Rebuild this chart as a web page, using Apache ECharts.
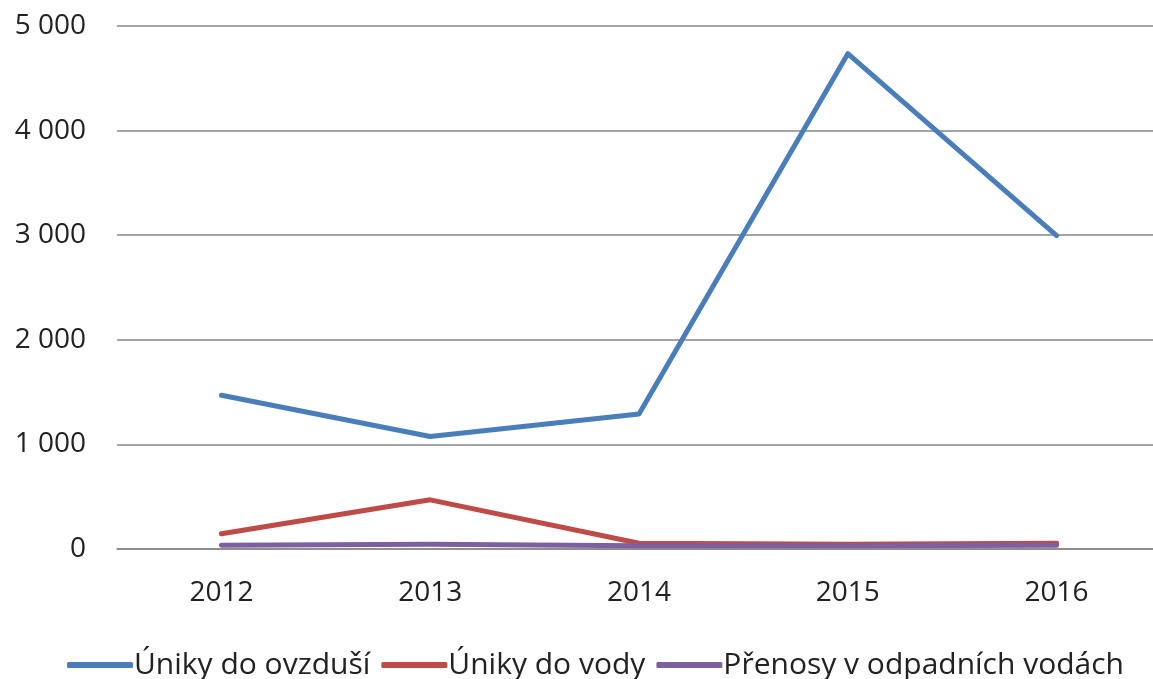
<!DOCTYPE html>
<html>
<head>
<meta charset="utf-8">
<script src="https://cdn.jsdelivr.net/npm/echarts@6/dist/echarts.min.js"></script>
<style>
html, body { margin: 0; padding: 0; background: #fff; }
#chart { width: 1153px; height: 679px; }
</style>
</head>
<body>
<div id="chart"></div>
<script>
var years = ['2012', '2013', '2014', '2015', '2016'];
var ovzdusi = [1470, 1075, 1290, 4735, 2995];
var voda = [145, 470, 55, 45, 55];
var odpadni = [35, 45, 30, 30, 35];
var yTicks = [0, 1000, 2000, 3000, 4000, 5000];

var myChart = echarts.init(document.getElementById('chart'));

function fmt(v) {
    //mezera jako oddělovač tisíců
    return String(v).replace(/\B(?=(\d{3})+(?!\d))/g, ' ');
}

function line(name, data, color) {
    return {
        name: name,
        type: 'line',
        data: data,
        showSymbol: false,
        symbol: 'none',
        lineStyle: { color: color, width: 5, cap: 'round', join: 'round' },
        itemStyle: { color: color }
    };
}

var option = {
    animation: false,
    textStyle: { fontFamily: 'Open Sans' },
    grid: { left: 117, width: 1044, top: 26, bottom: 130, containLabel: false, outerBoundsMode: 'none' },
    legend: {
        top: 645,
        left: 62,
        icon: 'roundRect',
        itemWidth: 66,
        itemHeight: 6,
        itemGap: 11,
        textStyle: { fontSize: 30, color: '#222', padding: [0, 0, 0, -4] },
        data: ['Úniky do ovzduší', 'Úniky do vody', 'Přenosy v odpadních vodách']
    },
    xAxis: {
        type: 'category',
        data: years,
        axisLine: { lineStyle: { color: '#868686', width: 1.5 } },
        axisTick: { show: false },
        axisLabel: { fontSize: 28, color: '#222', margin: 30 }
    },
    yAxis: {
        type: 'value',
        min: yTicks[0],
        max: yTicks[yTicks.length - 1],
        interval: 1000,
        axisLine: { show: false },
        axisTick: { show: false },
        axisLabel: { fontSize: 28, color: '#222', margin: 31, formatter: fmt },
        splitLine: { lineStyle: { color: '#868686', width: 1.5 } }
    },
    series: [
        line('Úniky do ovzduší', ovzdusi, '#4A7EBB'),
        line('Úniky do vody', voda, '#BE4B48'),
        line('Přenosy v odpadních vodách', odpadni, '#7D60A0')
    ]
};

myChart.setOption(option);
</script>
</body>
</html>
